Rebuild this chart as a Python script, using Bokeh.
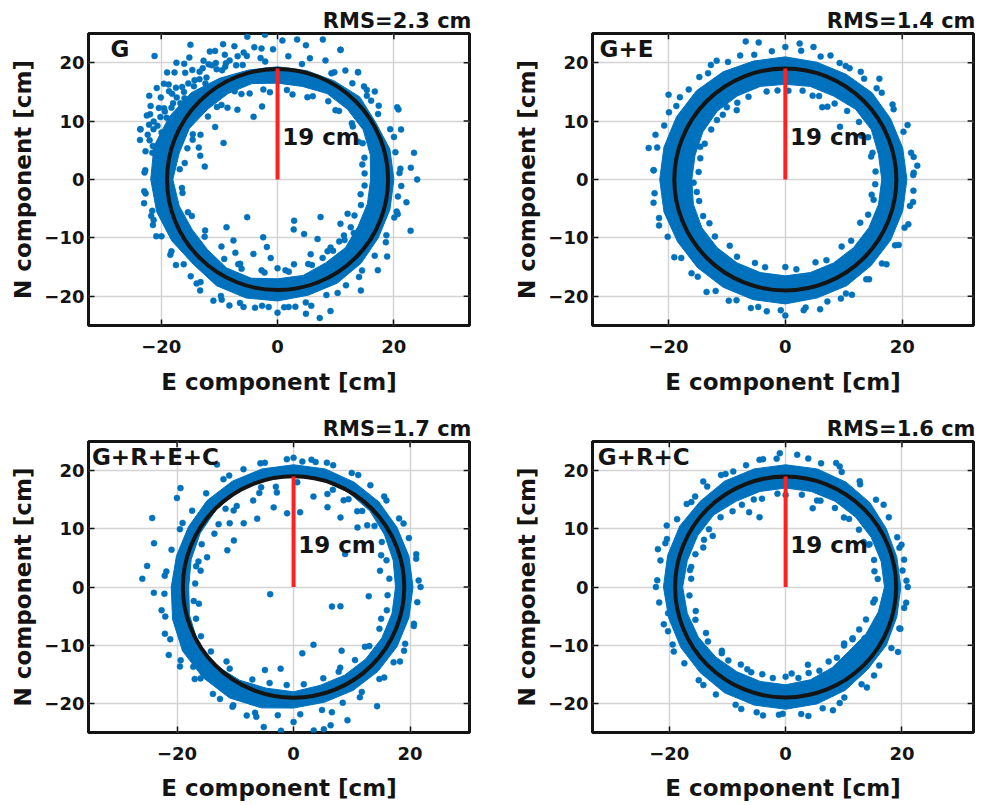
import numpy as np
from bokeh.plotting import figure
from bokeh.layouts import column, row
from bokeh.models import FixedTicker, Range1d, Label
from bokeh.embed import file_html
from bokeh.resources import INLINE

# ---------------- data ----------------
panel_names = ["G", "G+E", "G+R+E+C", "G+R+C"]
rms_labels = ["RMS=2.3 cm", "RMS=1.4 cm", "RMS=1.7 cm", "RMS=1.6 cm"]
radius_cm = 19
radius_label = "19 cm"
x_ticks = [-20, 0, 20]
y_ticks = [-20, -10, 0, 10, 20]
x_title = "E component [cm]"
y_title = "N component [cm]"

# dense core of each point cloud: inner / outer radius [cm] at these azimuths [deg]
band_ang = [0, 15, 30, 45, 60, 75, 90, 105, 120, 135, 150, 165,
            180, 195, 210, 225, 240, 255, 270, 285, 300, 315, 330, 345]

g_rin = [16.0, 16.5, 17.0, 17.0, 17.0, 16.5, 16.5, 17.0, 17.0, 17.0, 17.5, 17.5,
         18.0, 17.5, 17.0, 17.0, 17.5, 17.5, 17.0, 17.0, 16.5, 16.5, 16.0, 16.0]
g_rout = [20.0, 20.0, 19.5, 20.0, 19.5, 19.3, 19.3, 19.4, 20.0, 21.0, 21.5, 22.0,
          21.8, 21.5, 21.0, 20.5, 21.0, 21.0, 20.8, 20.5, 20.5, 20.3, 20.0, 20.0]
ge_rin = [16.5, 16.5, 17.0, 17.0, 16.5, 16.5, 16.3, 16.5, 16.5, 16.5, 16.3, 16.0,
          16.0, 16.3, 16.5, 16.5, 16.5, 16.5, 16.5, 16.5, 16.5, 16.5, 16.5, 16.5]
ge_rout = [20.8, 20.8, 20.8, 21.0, 20.8, 20.8, 21.0, 21.0, 21.3, 21.5, 21.5, 21.5,
           21.5, 21.5, 21.3, 21.3, 21.3, 21.3, 21.3, 21.0, 21.0, 20.8, 20.8, 20.8]
grec_rin = [17.5, 17.7, 18.0, 18.5, 18.8, 19.0, 19.0, 19.0, 19.0, 18.8, 18.5, 18.2,
            18.0, 18.5, 19.0, 19.0, 18.5, 18.0, 18.0, 17.5, 17.5, 17.5, 17.5, 17.5]
grec_rout = [20.5, 20.5, 20.5, 20.7, 20.8, 21.0, 21.0, 21.0, 21.0, 21.0, 20.8, 20.8,
             21.0, 21.5, 22.0, 22.0, 22.0, 21.5, 20.8, 20.5, 20.5, 20.5, 20.5, 20.5]
grc_rin = [17.0, 17.0, 17.0, 17.0, 17.0, 17.0, 17.0, 17.0, 17.0, 17.5, 17.5, 17.5,
           17.7, 17.5, 17.3, 17.0, 16.8, 16.8, 16.8, 16.5, 16.0, 15.5, 16.0, 16.5]
grc_rout = [19.8, 19.8, 20.0, 20.5, 20.8, 21.0, 21.0, 21.0, 21.0, 20.8, 21.0, 21.0,
            21.0, 20.8, 20.8, 20.8, 21.0, 21.0, 21.0, 20.8, 20.5, 20.0, 20.0, 19.8]

# individual scattered solutions: azimuth [deg], radius [cm]
g_pt_ang = [30, 36, 42, 47, 53, 58, 62, 64, 68, 72, 75, 78, 82, 85, 88, 92, 95, 98, 102, 105,
            108, 110, 113, 116, 119, 122, 123, 126, 129, 132, 134, 136, 138, 140, 142, 145, 147, 150, 152, 155,
            158, 160, 163, 165, 135,
            100, 104, 112, 118, 121, 125, 128, 131, 137, 141, 144, 148, 151, 154, 157, 127, 133, 139, 115, 97,
            118, 124, 130, 136, 141, 146, 149, 153, 156, 161, 164, 168, 143, 139, 131, 126, 120, 114, 108, 112,
            146, 111, 163, 170, 155, 130, 116, 102, 140, 125, 150, 158, 108, 120,
            231, 223, 234, 256, 252, 246, 261, 292, 296, 304, 325, 308, 281, 319, 334, 325, 294, 288, 270, 240,
            300, 315, 265,
            339, 344, 325, 318, 307, 292, 287, 282, 270, 249, 266, 275, 242, 235, 198, 194, 160, 176, 11, 0,
            22, 31, 45, 53, 64, 350, 5,
            5, 20, 40, 185, 190, 200, 205, 215, 220, 228, 232, 245, 255, 260, 278, 285, 298, 310, 330, 345,
            10, 25, 35, 50, 70, 80, 95, 170, 185, 200, 215, 230, 245, 260, 275, 290, 305, 320, 335, 350]
g_pt_r = [24.0, 21.5, 22.5, 21.8, 23.0, 22.0, 20.8, 24.7, 22.0, 25.2, 21.5, 23.5, 24.2, 21.2, 23.8, 22.3, 24.9, 21.0, 25.0, 22.5,
          24.0, 20.8, 23.2, 24.5, 21.6, 24.0, 27.5, 22.8, 25.5, 21.5, 25.5, 26.4, 23.5, 25.5, 21.2, 24.5, 26.3, 25.2, 22.8, 23.5,
          21.5, 25.1, 23.0, 22.2, 29.9,
          23.0, 21.8, 22.0, 22.6, 23.0, 21.3, 23.8, 24.2, 22.0, 23.3, 22.2, 23.0, 21.8, 25.0, 24.0, 20.6, 22.5, 21.2, 21.3, 22.6,
          24.8, 23.0, 22.2, 22.8, 24.0, 22.0, 23.8, 24.6, 22.6, 23.6, 24.6, 22.0, 26.0, 24.8, 26.5, 25.8, 22.6, 21.8, 22.2, 25.0,
          11.2, 11.5, 13.9, 12.7, 16.1, 16.2, 16.8, 12.8, 14.0, 15.0, 15.3, 14.6, 15.5, 13.8,
          8.3, 12.0, 12.9, 10.2, 13.4, 15.8, 11.7, 7.6, 10.4, 12.3, 13.2, 14.8, 14.8, 9.8, 13.4, 16.0, 14.0, 9.0, 15.2, 14.5,
          15.5, 15.0, 13.5,
          24.5, 21.5, 23.0, 23.2, 23.8, 24.3, 24.8, 23.5, 22.8, 23.1, 21.9, 21.9, 23.5, 23.2, 22.4, 22.2, 25.1, 22.8, 23.9, 24.0,
          22.9, 24.0, 21.7, 23.0, 24.7, 22.5, 23.0,
          21.2, 21.3, 21.0, 23.0, 23.3, 22.8, 23.0, 22.5, 22.8, 22.3, 22.6, 22.7, 22.6, 22.3, 22.0, 22.4, 22.0, 21.8, 21.5, 21.2,
          14.8, 15.3, 15.8, 15.5, 15.0, 14.8, 15.0, 16.2, 16.5, 16.4, 15.2, 15.0, 16.0, 15.8, 15.6, 15.4, 15.0, 14.9, 14.6, 14.5]
g_edge_ang = [3, 13, 24, 33, 43, 52, 63, 78, 96, 107, 117, 128, 141, 149, 158, 168, 177, 186, 196, 206,
              214, 222, 233, 244, 253, 263, 273, 283, 293, 303, 313, 322, 333, 342, 352, 357,
              4, 14, 23, 37, 48, 57, 67, 84, 99, 113, 127, 138, 152, 161, 174, 188, 203, 218, 236, 248,
              262, 277, 292, 308, 318, 327, 343, 356]
g_edge_r = [21.0, 20.8, 21.2, 20.6, 21.0, 20.9, 20.4, 20.2, 20.3, 20.5, 21.0, 21.8, 22.3, 22.6, 23.0, 23.2, 22.9, 22.8, 22.6, 22.2,
            22.0, 21.7, 22.0, 22.2, 22.1, 21.8, 21.9, 21.6, 21.5, 21.6, 21.3, 21.2, 21.0, 21.1, 20.9, 21.3,
            15.0, 15.4, 15.9, 16.0, 15.8, 16.0, 15.5, 15.4, 15.6, 15.9, 16.0, 16.1, 16.5, 16.4, 16.9, 16.5, 16.0, 15.9, 16.4, 16.5,
            16.1, 15.9, 15.8, 15.5, 15.5, 15.0, 15.0, 15.0]

ge_pt_ang = [167, 176, 161, 144, 142, 123, 120, 106, 101, 84, 78, 65, 60, 47, 45, 24, 6, 3, 200, 215,
             235, 255, 270, 285, 300, 320, 340,
             129, 125, 139, 159, 188, 182, 63, 60, 44, 72, 95, 210, 230, 250, 270, 290, 310, 330, 350,
             15, 30,
             10, 35, 55, 70, 90, 110, 130, 150, 190, 225, 245, 262, 278, 295, 310, 330, 350]
ge_pt_r = [24.0, 22.6, 23.5, 24.7, 22.9, 23.4, 23.5, 24.6, 23.9, 23.4, 23.2, 22.0, 22.0, 23.6, 22.1, 22.9, 22.7, 22.0, 23.0, 23.2,
           23.5, 22.8, 23.3, 23.0, 22.8, 22.6, 22.4,
           15.9, 14.5, 15.5, 15.6, 15.3, 15.7, 13.9, 14.4, 13.0, 15.1, 15.3, 15.0, 14.8, 15.2, 15.0, 15.1, 15.0, 14.8, 15.0,
           15.2, 15.0,
           22.3, 22.4, 22.5, 22.6, 22.7, 22.6, 22.9, 23.0, 22.9, 22.7, 22.9, 22.8, 22.6, 22.5, 22.3, 22.4, 22.2]
ge_edge_ang = [2, 12, 22, 33, 42, 52, 62, 74, 83, 96, 104, 116, 126, 137, 146, 156, 166, 176, 186, 197,
               206, 217, 228, 238, 248, 258, 268, 279, 289, 298, 309, 319, 329, 338, 348, 355,
               5, 17, 27, 38, 48, 57, 68, 79, 88, 102, 114, 122, 134, 146, 156, 166, 175, 194, 204, 219,
               238, 257, 277, 297, 317, 337, 347, 357]
ge_edge_r = [21.9, 22.0, 21.8, 22.1, 22.2, 21.9, 22.0, 21.9, 22.2, 22.1, 22.0, 22.4, 22.5, 22.6, 22.5, 22.7, 22.6, 22.6, 22.5, 22.6,
             22.4, 22.3, 22.4, 22.5, 22.3, 22.3, 22.4, 22.2, 22.1, 22.1, 22.0, 21.9, 21.9, 22.0, 21.8, 22.0,
             15.5, 15.6, 15.9, 16.0, 15.8, 15.5, 15.4, 15.5, 15.2, 15.4, 15.5, 15.5, 15.4, 15.3, 15.1, 15.0, 14.9, 15.2, 15.4, 15.5,
             15.6, 15.4, 15.5, 15.5, 15.4, 15.4, 15.5, 15.4]

grec_pt_ang = [154, 162.6, 171.8, 176.9, 182.4, 138.8, 142.6, 122, 86, 80,
               146, 142, 128, 118, 104, 95, 161, 170, 165, 151, 115, 128, 85, 67, 56, 43, 32.6, 353, 10.6, 77.6,
               135, 100,
               333, 337.6, 289, 277.5, 307, 197, 251, 261,
               278, 282, 270, 285, 287, 292, 305, 301, 325, 342, 208.6, 236.7, 250, 258, 265, 243, 254, 228, 218.5, 224.5,
               200, 215,
               20, 40, 50, 60, 70, 100, 110, 125, 140, 190, 300, 320, 340, 355,
               15, 30, 45, 60, 75, 90, 105, 120, 150, 175, 190, 315, 330, 0]
grec_pt_r = [27.0, 25.1, 25.4, 26.0, 24.0, 25.8, 25.2, 24.8, 21.6, 21.8,
             16.4, 13.0, 13.9, 13.3, 14.1, 12.7, 15.7, 16.2, 16.9, 13.0, 16.4, 16.7, 12.9, 14.9, 14.4, 15.0, 10.5, 13.0, 15.1, 15.9,
             15.5, 16.5,
             7.4, 8.7, 10.5, 11.5, 13.7, 4.2, 15.1, 14.2,
             24.9, 25.0, 23.2, 24.6, 22.5, 24.7, 25.0, 22.1, 22.3, 21.7, 24.4, 23.0, 23.5, 24.6, 24.8, 22.8, 23.2, 17.2, 22.0, 22.4,
             23.5, 23.8,
             16.0, 16.5, 17.0, 17.2, 17.0, 17.5, 17.2, 17.0, 16.8, 16.5, 16.0, 16.0, 16.0, 16.2,
             21.8, 21.8, 22.0, 22.2, 22.1, 22.2, 22.0, 22.1, 22.0, 22.2, 23.0, 22.0, 21.9, 21.8]
grec_edge_ang = [3, 13, 23, 33, 43, 53, 63, 72, 82, 93, 103, 113, 123, 133, 143, 153, 163, 173, 183, 193,
                 203, 213, 223, 233, 243, 253, 263, 273, 283, 293, 303, 313, 323, 333, 343, 353,
                 5, 16, 27, 37, 48, 58, 68, 88, 108, 131, 155, 168, 178, 188, 198, 208, 218, 232, 246, 256,
                 266, 276, 288, 298, 310, 322, 334, 346]
grec_edge_r = [21.5, 21.6, 21.5, 21.6, 21.8, 21.9, 22.0, 22.0, 22.1, 22.0, 21.9, 22.0, 22.1, 22.0, 21.8, 21.9, 21.9, 22.0, 22.2, 22.6,
               23.0, 23.1, 23.2, 23.0, 23.1, 22.6, 22.2, 21.9, 21.7, 21.6, 21.5, 21.6, 21.5, 21.5, 21.6, 21.4,
               16.5, 16.6, 17.0, 17.4, 17.6, 17.8, 18.0, 18.0, 18.0, 17.8, 17.4, 17.1, 16.9, 17.3, 17.6, 18.0, 18.0, 17.8, 17.4, 17.0,
               16.9, 16.8, 16.5, 16.5, 16.4, 16.5, 16.4, 16.5]

grc_pt_ang = [92.5, 67.8, 71, 110.5, 116, 145, 154.4, 170, 163.5, 152.7, 128, 114.4, 101.6, 65.8, 19,
              8, 27, 200.6, 226, 240, 274, 286, 316, 322.6, 327, 309, 291, 268.7, 330, 352.6, 192.6,
              0, 20, 40, 55, 80, 100, 120, 140, 160, 180, 210, 230, 250, 260, 280, 295, 315, 340, 85, 135,
              10, 30, 50, 70, 90, 105, 125, 150, 175, 195, 210, 225, 245, 255, 270, 285, 300, 315, 330, 350]
grc_pt_r = [23.0, 23.0, 14.3, 12.8, 14.3, 15.3, 15.7, 16.7, 22.9, 23.0, 23.0, 21.8, 22.3, 22.7, 20.7,
            20.3, 16.2, 21.6, 15.8, 15.4, 14.9, 13.9, 14.0, 14.5, 16.2, 22.2, 22.7, 21.8, 22.3, 20.9, 20.7,
            21.0, 21.2, 22.0, 22.2, 22.4, 22.3, 22.2, 22.2, 22.0, 22.3, 22.2, 22.0, 22.3, 22.4, 22.5, 22.0, 21.5, 21.0, 22.8, 22.0,
            15.5, 15.5, 15.6, 15.8, 15.8, 15.7, 15.9, 16.2, 16.3, 16.0, 15.8, 15.5, 15.6, 15.5, 15.4, 15.3, 14.8, 14.2, 14.6, 15.3]
grc_edge_ang = [3, 13, 24, 34, 44, 54, 64, 74, 94, 108, 118, 128, 138, 148, 158, 168, 177, 187, 197, 207,
                217, 227, 237, 247, 257, 267, 277, 287, 298, 308, 320, 330, 340, 350,
                5, 17, 27, 38, 47, 58, 68, 80, 95, 110, 118, 133, 143, 160, 168, 185, 200, 215, 232, 248,
                262, 278, 292, 306, 322, 338, 352]
grc_edge_r = [20.8, 20.9, 21.0, 21.4, 21.6, 21.8, 22.0, 22.1, 22.1, 22.0, 22.0, 21.9, 21.8, 22.0, 22.0, 22.0, 22.1, 21.9, 21.9, 21.8,
              21.8, 21.9, 22.0, 22.0, 22.1, 22.0, 22.0, 21.8, 21.5, 21.2, 21.0, 21.0, 20.8, 20.7,
              15.9, 15.9, 16.0, 16.0, 16.0, 16.0, 16.0, 16.1, 16.1, 16.0, 16.0, 16.4, 16.5, 16.5, 16.6, 16.6, 16.5, 16.3, 16.0, 15.8,
              15.8, 15.8, 15.5, 15.0, 14.6, 14.9, 15.5]

bands = [(g_rin, g_rout), (ge_rin, ge_rout), (grec_rin, grec_rout), (grc_rin, grc_rout)]
points = [(g_pt_ang + g_edge_ang, g_pt_r + g_edge_r),
          (ge_pt_ang + ge_edge_ang, ge_pt_r + ge_edge_r),
          (grec_pt_ang + grec_edge_ang, grec_pt_r + grec_edge_r),
          (grc_pt_ang + grc_edge_ang, grc_pt_r + grc_edge_r)]

# ---------------- style / layout ----------------
FONT = "DejaVu Sans"
BLUE = "#0072BD"
INK = "#141414"

# x_range, min_border (left, right, top, bottom), frame height, panel-label x, x-label standoff
layout_cfg = [
    ((-32.5, 33.0), (88, 36, 33, 80), 292, -28.7, 13),
    ((-33.0, 32.2), (87, 11, 33, 80), 292, -31.8, 13),
    ((-35.2, 30.2), (88, 36, 36, 73), 291, -34.6, 12),
    ((-33.2, 32.3), (87, 11, 36, 73), 291, -32.3, 12),
]


def to_xy(ang, r):
    a = np.radians(np.asarray(ang, dtype=float))
    rr = np.asarray(r, dtype=float)
    return rr * np.cos(a), rr * np.sin(a)


def make_panel(i):
    xr, (bl, br, bt, bb), fh, lab_x, xl_std = layout_cfg[i]
    p = figure(frame_width=381, frame_height=fh,
               x_range=Range1d(*xr), y_range=Range1d(-25, 25),
               output_backend="svg", toolbar_location=None,
               min_border_left=bl, min_border_right=br,
               min_border_top=bt, min_border_bottom=bb,
               background_fill_color="white", border_fill_color="white")
    p.outline_line_color = INK
    p.outline_line_width = 3
    p.outline_line_alpha = 1.0

    p.title.text = rms_labels[i]
    p.title.align = "right"
    p.title.text_font = FONT
    p.title.text_font_style = "bold"
    p.title.text_font_size = "21px"
    p.title.text_color = INK
    p.title.standoff = 1
    p.title.offset = -2

    p.xaxis.ticker = FixedTicker(ticks=x_ticks)
    p.yaxis.ticker = FixedTicker(ticks=y_ticks)
    p.xgrid.ticker = FixedTicker(ticks=x_ticks)
    p.ygrid.ticker = FixedTicker(ticks=y_ticks)
    for g in (p.xgrid[0], p.ygrid[0]):
        g.grid_line_color = "#d4d4d4"
        g.grid_line_width = 1.5
    p.xaxis.axis_label = x_title
    p.yaxis.axis_label = y_title
    for ax in (p.xaxis[0], p.yaxis[0]):
        ax.axis_line_color = None
        ax.major_tick_in = 6
        ax.major_tick_out = 0
        ax.major_tick_line_color = INK
        ax.major_tick_line_width = 1.5
        ax.minor_tick_line_color = None
        ax.major_label_text_font = FONT
        ax.major_label_text_font_style = "bold"
        ax.major_label_text_font_size = "18px"
        ax.major_label_text_color = INK
        ax.axis_label_text_font = FONT
        ax.axis_label_text_font_style = "bold"
        ax.axis_label_text_font_size = "23px"
        ax.axis_label_text_color = INK
    p.xaxis.major_label_standoff = 14
    p.xaxis.axis_label_standoff = xl_std
    p.yaxis.major_label_standoff = 4
    p.yaxis.axis_label_standoff = 5

    # inward tick marks on the right and top edges of the box
    tick_len = 1.0
    p.segment(x0=[xr[1]] * len(y_ticks), y0=y_ticks, x1=[xr[1] - tick_len] * len(y_ticks), y1=y_ticks,
              line_color=INK, line_width=1.5)
    p.segment(x0=x_ticks, y0=[25] * len(x_ticks), x1=x_ticks, y1=[25 - tick_len] * len(x_ticks),
              line_color=INK, line_width=1.5)

    rin, rout = bands[i]
    ox, oy = to_xy(band_ang + [band_ang[0]], rout + [rout[0]])
    ix, iy = to_xy(band_ang + [band_ang[0]], rin + [rin[0]])
    p.multi_polygons(xs=[[[list(ox), list(ix)]]], ys=[[[list(oy), list(iy)]]],
                     fill_color=BLUE, line_color=BLUE, line_width=1)

    pa, pr = points[i]
    px, py = to_xy(pa, pr)
    p.scatter(px, py, size=6, marker="circle", fill_color=BLUE, line_color=BLUE, line_width=0.5)

    p.circle(x=[0], y=[0], radius=radius_cm, fill_color=None,
             line_color=INK, line_width=4)
    p.segment(x0=[0], y0=[0], x1=[0], y1=[radius_cm], line_color="#ff2020", line_width=4)

    p.add_layout(Label(x=0.8, y=7.3, text=radius_label, text_font=FONT,
                       text_font_style="bold", text_font_size="23px",
                       text_baseline="middle", text_align="left", text_color=INK))
    p.add_layout(Label(x=lab_x, y=22.4, text=panel_names[i], text_font=FONT,
                       text_font_style="bold", text_font_size="23px",
                       text_baseline="middle", text_align="left", text_color=INK))
    return p


panels = [make_panel(i) for i in range(4)]
layout = column(row(panels[0], panels[1]), row(panels[2], panels[3]))

open("out.html", "w").write(file_html(layout, INLINE))
